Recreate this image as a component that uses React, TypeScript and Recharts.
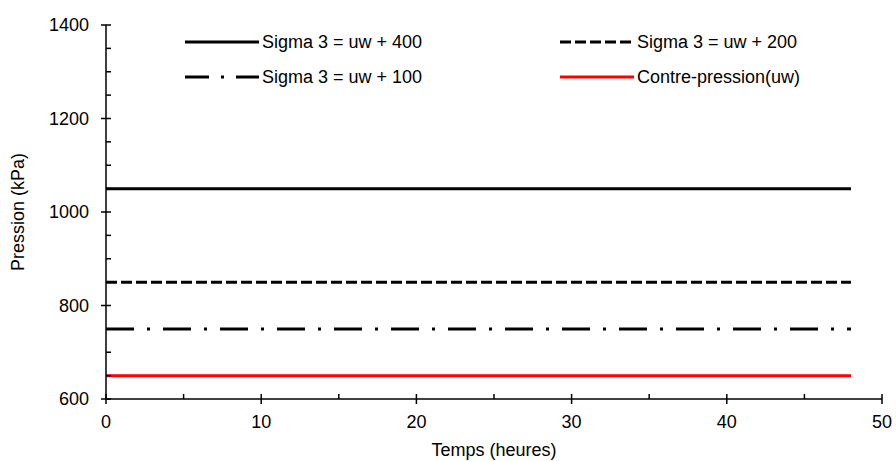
import React from 'react';
import { LineChart, Line, XAxis, YAxis } from 'recharts';

const times = [0, 48];
const sigma400 = [1050, 1050];
const sigma200 = [850, 850];
const sigma100 = [750, 750];
const backPressure = [650, 650];

const xTicks = [0, 5, 10, 15, 20, 25, 30, 35, 40, 45, 50];
const yTicks = [600, 650, 700, 750, 800, 850, 900, 950, 1000, 1050, 1100, 1150, 1200, 1250, 1300, 1350, 1400];

const data = times.map((t, i) => ({
  t,
  s400: sigma400[i],
  s200: sigma200[i],
  s100: sigma100[i],
  uw: backPressure[i],
}));

const series = [
  { key: 's400', name: 'Sigma 3 = uw + 400', color: '#000', dash: undefined },
  { key: 's200', name: 'Sigma 3 = uw + 200', color: '#000', dash: '11 4' },
  { key: 's100', name: 'Sigma 3 = uw + 100', color: '#000', dash: '28 13 3 13' },
  { key: 'uw', name: 'Contre-pression(uw)', color: '#ff0000', dash: undefined },
];

const FONT = '"Liberation Sans", Arial, sans-serif';
const FS = 18;

// axis tick: label only on majors, majors cross the axis, minors point inward
const YTick = (props: any) => {
  const { x, y, payload } = props;
  const v = payload.value;
  const axisX = x + 5 + 14;
  const major = v % 200 === 0;
  return (
    <g>
      <line x1={major ? axisX - 5 : axisX} x2={axisX + 5} y1={y} y2={y} stroke="#000" strokeWidth={1.5} />
      {major && (
        <text x={x + 2} y={y} dy={6} textAnchor="end" fontSize={FS} fontFamily={FONT} fill="#000">
          {v}
        </text>
      )}
    </g>
  );
};

const XTick = (props: any) => {
  const { x, y, payload } = props;
  const v = payload.value;
  const axisY = y - 5 - 8;
  const major = v % 10 === 0;
  return (
    <g>
      <line x1={x} x2={x} y1={axisY - 5} y2={major ? axisY + 5 : axisY} stroke="#000" strokeWidth={1.5} />
      {major && (
        <text x={x} y={y} dy={16} textAnchor="middle" fontSize={FS} fontFamily={FONT} fill="#000">
          {v}
        </text>
      )}
    </g>
  );
};

const LegendBox = () => {
  const cols = [185, 560];
  const rows = [42, 77];
  return (
    <svg width={896} height={100} style={{ position: 'absolute', left: 0, top: 0 }}>
      {series.map((s, i) => {
        const x = cols[i % 2];
        const y = rows[Math.floor(i / 2)];
        return (
          <g key={s.key}>
            <line x1={x} x2={x + 74} y1={y} y2={y} stroke={s.color} strokeWidth={3} strokeDasharray={s.key === 's100' ? '24 12 3 12' : s.dash} />
            <text x={x + 77} y={y} dy={6} fontSize={FS} fontFamily={FONT} fill="#000">
              {s.name}
            </text>
          </g>
        );
      })}
    </svg>
  );
};

export default function App() {
  return (
    <div style={{ position: 'absolute', left: 0, top: 0, width: 896, height: 461, background: '#fff' }}>
      <LineChart width={896} height={461} data={data} margin={{ top: 25, right: 14, left: 0, bottom: 0 }}>
        <XAxis
          dataKey="t"
          type="number"
          domain={[0, 50]}
          ticks={xTicks}
          interval={0}
          height={62}
          tickSize={5}
          tickMargin={8}
          tickLine={false}
          tick={<XTick />}
          axisLine={{ stroke: '#000', strokeWidth: 1.5 }}
          label={{ value: 'Temps (heures)', position: 'insideBottom', offset: 5, fontSize: FS, fontFamily: FONT, fill: '#000' }}
        />
        <YAxis
          type="number"
          domain={[600, 1400]}
          ticks={yTicks}
          interval={0}
          width={106}
          tickSize={5}
          tickMargin={14}
          tickLine={false}
          tick={<YTick />}
          axisLine={{ stroke: '#000', strokeWidth: 1.5 }}
          label={{ value: 'Pression (kPa)', angle: -90, position: 'insideLeft', offset: 18, fontSize: FS, fontFamily: FONT, fill: '#000', style: { textAnchor: 'middle' } }}
        />
        {series.map((s) => (
          <Line
            key={s.key}
            dataKey={s.key}
            name={s.name}
            type="linear"
            stroke={s.color}
            strokeWidth={3}
            strokeDasharray={s.dash}
            dot={false}
            activeDot={false}
            isAnimationActive={false}
          />
        ))}
      </LineChart>
      <LegendBox />
    </div>
  );
}
